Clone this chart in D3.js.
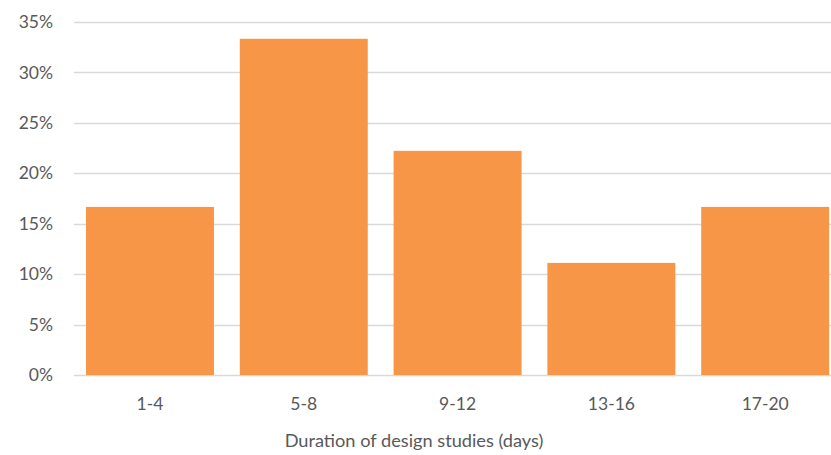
<!DOCTYPE html>
<html>
<head>
<meta charset="utf-8">
<script src="https://cdn.jsdelivr.net/npm/d3@7"></script>
<style>
  html, body { margin: 0; padding: 0; background: #fff; }
  svg { display: block; font-family: Lato, "Open Sans", sans-serif; }
</style>
</head>
<body>
<svg id="chart" width="831" height="455"></svg>
<script>
// Share of design studies by duration bucket
const categories = ["1-4", "5-8", "9-12", "13-16", "17-20"];
const shares = [1 / 6, 1 / 3, 2 / 9, 1 / 9, 1 / 6];
const yTicks = [0, 0.05, 0.10, 0.15, 0.20, 0.25, 0.30, 0.35];
const xTitle = "Duration of design studies (days)";

const svg = d3.select("#chart");
const W = 831, H = 455;
const plotLeft = 74, plotTop = 22, plotBottom = 375;
const step = 153.8, padIn = 0.168, padOut = 0.078;

const x = d3.scaleBand()
  .domain(categories)
  .range([plotLeft, plotLeft + step * (categories.length - padIn + 2 * padOut)])
  .paddingInner(padIn)
  .paddingOuter(padOut);

const y = d3.scaleLinear().domain([0, 0.35]).range([plotBottom, plotTop]);

// horizontal gridlines
svg.append("g")
  .selectAll("line")
  .data(yTicks)
  .join("line")
  .attr("x1", plotLeft)
  .attr("x2", W)
  .attr("y1", d => Math.round(y(d)) + 0.5)
  .attr("y2", d => Math.round(y(d)) + 0.5)
  .attr("stroke", "#d9d9d9")
  .attr("stroke-width", 1.5);

// bars
svg.append("g")
  .selectAll("rect")
  .data(categories)
  .join("rect")
  .attr("x", d => x(d))
  .attr("width", x.bandwidth())
  .attr("y", (d, i) => y(shares[i]))
  .attr("height", (d, i) => y(0) - y(shares[i]))
  .attr("fill", "#f79646");

// y-axis labels
const yAxis = d3.axisLeft(y)
  .tickValues(yTicks)
  .tickFormat(d3.format(".0%"))
  .tickSize(0)
  .tickPadding(0);

svg.append("g")
  .attr("transform", "translate(53,0)")
  .call(yAxis)
  .call(g => g.select(".domain").remove())
  .call(g => g.selectAll("text")
    .attr("fill", "#595959")
    .attr("font-size", 17.5)
    .attr("font-family", "Lato, sans-serif"));

// x-axis category labels
const xAxis = d3.axisBottom(x).tickSize(0).tickPadding(0);
svg.append("g")
  .attr("transform", "translate(0,398)")
  .call(xAxis)
  .call(g => g.select(".domain").remove())
  .call(g => g.selectAll("text")
    .attr("fill", "#595959")
    .attr("font-size", 17.5)
    .attr("font-family", "Lato, sans-serif"));

// axis title
svg.append("text")
  .attr("x", 414)
  .attr("y", 447)
  .attr("text-anchor", "middle")
  .attr("fill", "#595959")
  .attr("font-size", 18.2)
  .text(xTitle);
</script>
</body>
</html>
